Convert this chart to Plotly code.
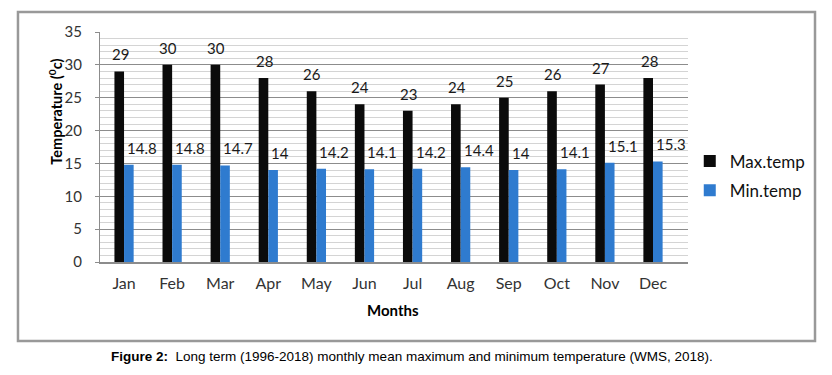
import plotly.graph_objects as go

months = ["Jan", "Feb", "Mar", "Apr", "May", "Jun", "Jul", "Aug", "Sep", "Oct", "Nov", "Dec"]
max_temp = [29, 30, 30, 28, 26, 24, 23, 24, 25, 26, 27, 28]
min_temp = [14.8, 14.8, 14.7, 14, 14.2, 14.1, 14.2, 14.4, 14, 14.1, 15.1, 15.3]
y_ticks = [0, 5, 10, 15, 20, 25, 30, 35]

FONT = "Lato, Carlito, Calibri, sans-serif"

fig = go.Figure()
fig.add_trace(go.Bar(x=months, y=max_temp, name="Max.temp", legendgroup="a",
                     marker=dict(color="#0b0b0b", line=dict(width=0))))
fig.add_trace(go.Bar(x=months, y=min_temp, name="Min.temp", legendgroup="b",
                     marker=dict(color="#2f7bcf", line=dict(width=0))))

annotations = []
for m, v in zip(months, max_temp):
    annotations.append(dict(x=m, y=v, xref="x", yref="y", text=str(v), showarrow=False,
                            xanchor="center", yanchor="middle", xshift=-4, yshift=17,
                            font=dict(family=FONT, size=15, color="#1a1a1a")))
for m, v in zip(months, min_temp):
    annotations.append(dict(x=m, y=v, xref="x", yref="y", text=f"{v:g}", showarrow=False,
                            xanchor="left", yanchor="middle", xshift=1, yshift=17,
                            font=dict(family=FONT, size=15, color="#1a1a1a")))

# axis titles
annotations.append(dict(x=-0.076, y=0.655, xref="paper", yref="paper",
                        text="<b>Temperature (<sup>0</sup>c)</b>", textangle=-90, showarrow=False,
                        xanchor="center", yanchor="middle",
                        font=dict(family=FONT, size=14.5, color="#000")))
annotations.append(dict(x=0.498, y=-0.209, xref="paper", yref="paper",
                        text="<b>Months</b>", showarrow=False, xanchor="center", yanchor="middle",
                        font=dict(family=FONT, size=15, color="#000")))
# caption
annotations.append(dict(x=0.531, y=-0.413, xref="paper", yref="paper",
                        text="<b>Figure 2:</b>  Long term (1996-2018) monthly mean maximum and minimum temperature (WMS, 2018).",
                        showarrow=False, xanchor="center", yanchor="middle",
                        font=dict(family="Liberation Sans Narrow, Arial Narrow, Liberation Sans, sans-serif",
                                  size=13.5, color="#000")))

fig.update_layout(
    width=824, height=367,
    margin=dict(l=92, r=144, t=24, b=113),
    paper_bgcolor="white", plot_bgcolor="white",
    barmode="group", bargap=0.6, bargroupgap=0,
    font=dict(family=FONT, size=15, color="#222"),
    showlegend=True,
    legend=dict(x=1.003, y=0.374, xanchor="left", yanchor="middle",
                font=dict(family=FONT, size=17, color="#111"),
                itemwidth=30, tracegroupgap=4, bgcolor="rgba(0,0,0,0)"),
    annotations=annotations,
    shapes=[dict(type="rect", xref="paper", yref="paper",
                 x0=-0.1395, x1=1.216, y0=-0.343, y1=1.087,
                 line=dict(color="#999999", width=2.5), fillcolor="rgba(0,0,0,0)", layer="below")],
)
fig.update_yaxes(range=[0, 35], tickvals=y_ticks, showgrid=True, gridcolor="#8c8c8c", gridwidth=1,
                 minor=dict(dtick=1, showgrid=True, gridcolor="#d4d4d4", gridwidth=1),
                 showline=True, linecolor="#8c8c8c", linewidth=1,
                 ticks="outside", ticklen=4, tickcolor="#8c8c8c",
                 ticklabelstandoff=10, zeroline=False,
                 tickfont=dict(family=FONT, size=15, color="#333"))
fig.update_xaxes(showline=True, linecolor="#8c8c8c", linewidth=1.5, ticks="",
                 ticklabelstandoff=6,
                 tickfont=dict(family=FONT, size=16, color="#333"))

fig.write_html("out.html")
